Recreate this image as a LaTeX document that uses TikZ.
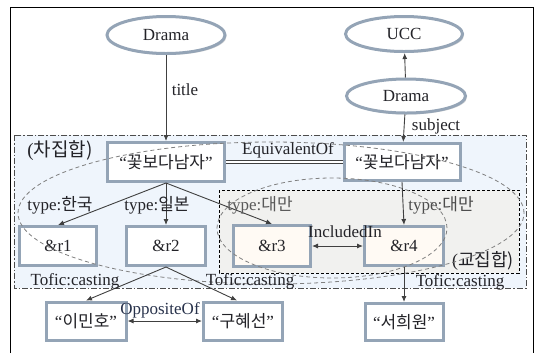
\documentclass[tikz,border=0pt]{standalone}
\usepackage{fontspec}
\setmainfont{Liberation Serif}
\newfontfamily\kr{Noto Sans CJK KR}
\usetikzlibrary{shapes.geometric,shadows,arrows.meta}
\definecolor{rimblue}{RGB}{148,164,182}
\definecolor{setblue}{RGB}{239,245,252}
\definecolor{setgray}{RGB}{241,241,239}
\definecolor{cream}{RGB}{255,250,244}
\definecolor{ink}{RGB}{35,35,40}
\definecolor{arrowgray}{RGB}{64,64,64}
\tikzset{
  box/.style={draw=rimblue,line width=3bp,fill=white,rectangle,inner sep=0pt,text=ink,
    drop shadow={opacity=0.3,shadow xshift=1.5bp,shadow yshift=-1.5bp}},
  cls/.style={box,ellipse},
  lbl/.style={inner sep=1bp,text=ink},
  arr/.style={draw=arrowgray,line width=0.9bp,-{Latex[length=6bp,width=5bp]}},
  twoway/.style={arr,{Latex[length=6bp,width=5bp]}-{Latex[length=6bp,width=5bp]}},
  setline/.style={draw=gray,line width=0.8bp,dash pattern=on 4bp off 3bp}
}
\begin{document}
\begin{tikzpicture}[x=1bp,y=-1bp,font=\fontsize{17bp}{20bp}\selectfont]
\useasboundingbox (0,0) rectangle (537,353);
% frame and the two sets
\draw[line width=0.9bp] (10.5,353) -- (10.5,7.5) -- (533,7.5) -- (533,353);
\draw[fill=setblue,draw=black!70,line width=0.8bp,dash pattern=on 6bp off 2bp on 1.5bp off 2bp] (14,135) rectangle (526,288);
\draw[fill=setgray,draw=black,line width=0.8bp,dash pattern=on 3bp off 2bp] (219,190) rectangle (519,273);
\draw (60,151) node[lbl,font=\fontsize{19bp}{22bp}\selectfont](diff) {(\kr 차집합)};
\draw (483,261) node[lbl,font=\fontsize{18bp}{21bp}\selectfont](inter) {(\kr 교집합)};

% classes
\draw (166,35) node[cls,minimum width=118bp,minimum height=37bp](dramaA) {Drama};
\draw (404,34) node[cls,minimum width=117bp,minimum height=35bp](ucc) {UCC};
\draw (406,96) node[cls,minimum width=119bp,minimum height=34bp](dramaB) {Drama};

% titles
\draw (166,162) node[box,minimum width=117bp,minimum height=39bp](titleA) {“{\kr 꽃보다남자}”};
\draw (402,162) node[box,minimum width=116bp,minimum height=37bp](titleB) {“{\kr 꽃보다남자}”};

% resources
\draw (58,246) node[box,minimum width=77bp,minimum height=39bp](r1) {\&r1};
\draw (166,246) node[box,minimum width=79bp,minimum height=39bp](r2) {\&r2};
\draw (272,246) node[box,fill=cream,minimum width=77bp,minimum height=41bp](r3) {\&r3};
\draw (404,246) node[box,fill=cream,minimum width=79bp,minimum height=39bp](r4) {\&r4};

% actors
\draw (86,321) node[box,minimum width=80bp,minimum height=38bp](lee) {“{\kr 이민호}”};
\draw (243,321) node[box,minimum width=79bp,minimum height=38bp](koo) {“{\kr 구혜선}”};
\draw (404,322) node[box,minimum width=78bp,minimum height=37bp](seo) {“{\kr 서희원}”};

% the two ellipses
\draw[setline] (271,213) ellipse [x radius=253bp, y radius=71bp];
\draw[setline] (332,228) ellipse [x radius=115bp, y radius=50bp];

% relations
\draw[arr] (dramaA) -- (titleA);
\draw[arr] (dramaB) -- (ucc);
\draw[arr] (dramaB) -- (titleB);
\draw[arrowgray,line width=0.8bp,double,double distance=1.6bp] (titleA) -- (titleB);
\draw[arr] (titleA.south) -- (r1.north);
\draw[arr] (titleA.south) -- (r2.north);
\draw[arr] (titleA.south) -- (r3.north);
\draw[arr] (titleB.south) -- (r4.north);
\draw[twoway] (r3) -- (r4);
\draw[arr] (r2.south) -- (lee.north);
\draw[arr] (r2.south) -- ([xshift=-6bp]koo.north);
\draw[twoway] (lee) -- (koo);
\draw[arr] (r4.south) -- (seo.north);

% labels
\draw (185,90) node[lbl](ltitle) {title};
\draw (436,126) node[lbl](lsubject) {subject};
\draw (288,150) node[lbl](lequiv) {EquivalentOf};
\draw (60,205) node[lbl](lkor) {type:{\kr 한국}};
\draw (157,205) node[lbl](ljpn) {type:{\kr 일본}};
\draw (260,205) node[lbl,text=black!65](ltwnA) {type:{\kr 대만}};
\draw (441,205) node[lbl,text=black!70](ltwnB) {type:{\kr 대만}};
\draw (345,232) node[lbl](lincl) {IncludedIn};
\draw (160,310) node[lbl,text={rgb,255:red,40;green,50;blue,75}](lopp) {OppositeOf};
\draw (75,281) node[lbl](lcastA) {Tofic:casting};
\draw (250,281) node[lbl](lcastB) {Tofic:casting};
\draw (460,282) node[lbl](lcastC) {Tofic:casting};
\end{tikzpicture}
\end{document}
